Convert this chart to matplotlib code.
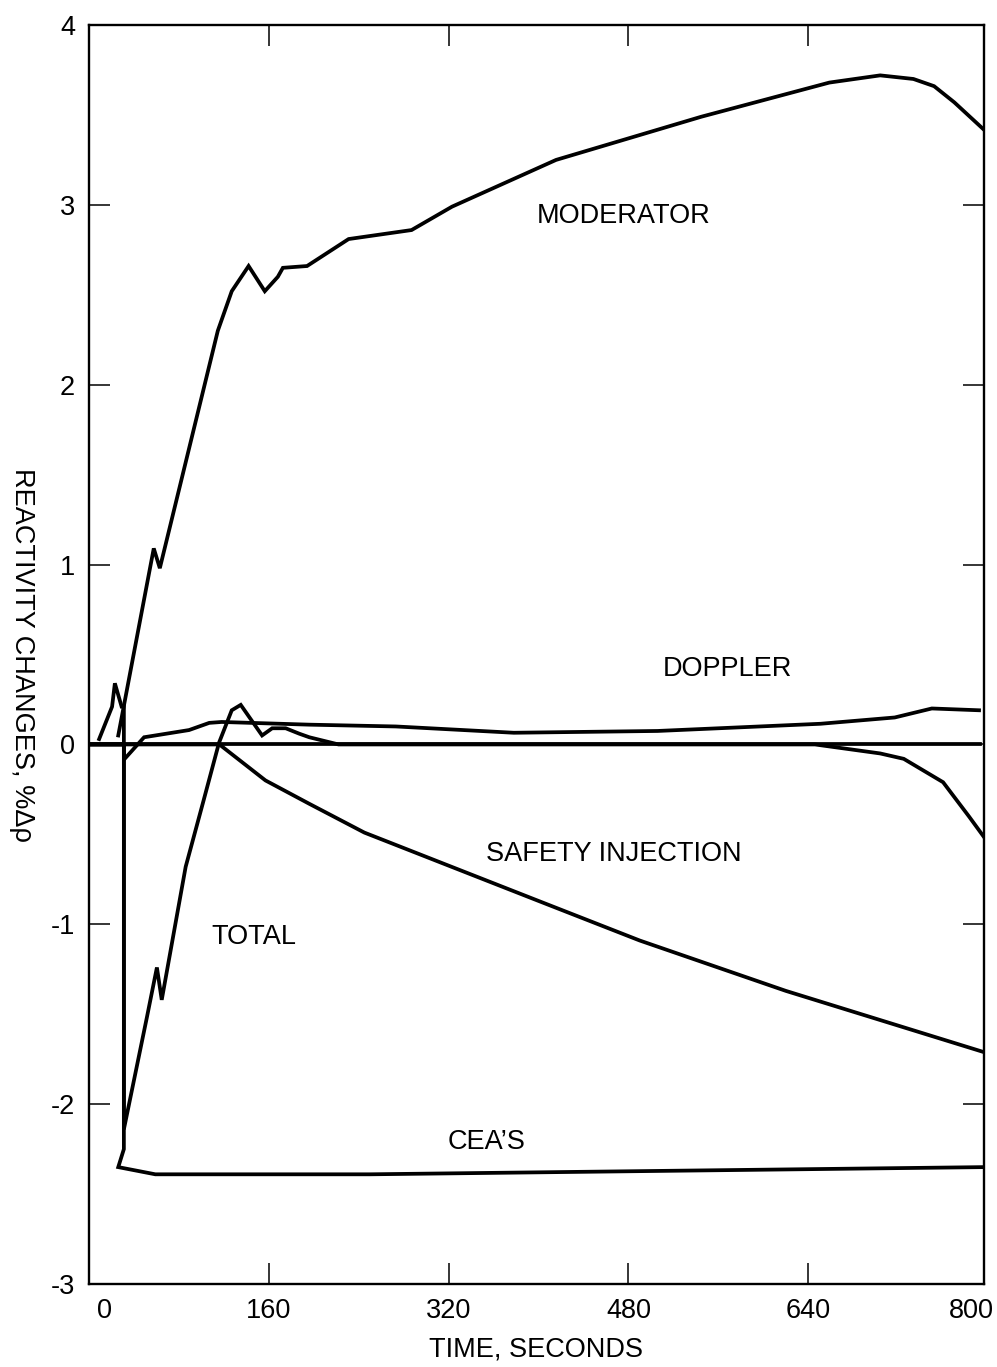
import matplotlib.pyplot as plt

plt.rcParams['font.family'] = ['Liberation Sans', 'DejaVu Sans']

# reactivity curves, time in seconds, reactivity in %dp
mod_t = [26, 57.6, 63, 114.6, 127, 142, 156.4, 168, 172.5, 194, 231, 287, 323,
         415.6, 544.8, 658.8, 704, 733.6, 752, 770, 796]
mod_v = [0.05, 1.09, 0.98, 2.30, 2.52, 2.66, 2.52, 2.60, 2.65, 2.66, 2.81, 2.86, 2.99,
         3.25, 3.49, 3.68, 3.72, 3.70, 3.66, 3.57, 3.42]

dop_t = [0, 31, 31, 49, 89, 107, 118, 196, 273, 378, 506, 651, 717, 750, 792]
dop_v = [0, 0, -0.085, 0.04, 0.08, 0.12, 0.125, 0.11, 0.10, 0.065, 0.075, 0.115, 0.15, 0.20, 0.19]

si_t = [0, 116, 157, 196, 245, 400, 490, 620, 796]
si_v = [0, 0, -0.20, -0.33, -0.49, -0.87, -1.09, -1.37, -1.71]

cea_t = [0, 31, 31, 26, 59, 250, 796]
cea_v = [0, 0, -2.25, -2.35, -2.39, -2.39, -2.35]

tot_t = [9, 20.5, 23, 29, 31, 31, 51.4, 60.4, 64.7, 86, 102, 115.7, 127, 135, 154, 163,
         175, 187, 196, 222, 646, 704, 725, 760, 783, 797]
tot_v = [0.03, 0.21, 0.34, 0.21, 0.21, -2.14, -1.52, -1.24, -1.42, -0.68, -0.31, 0.01,
         0.19, 0.22, 0.05, 0.09, 0.09, 0.06, 0.04, 0.0, 0.0, -0.05, -0.08, -0.21, -0.40, -0.52]

labels = {
    'MODERATOR': (476, 2.94),
    'DOPPLER': (568, 0.42),
    'SAFETY INJECTION': (467, -0.61),
    'TOTAL': (147, -1.07),
    'CEA\u2019S': (354, -2.21),
}

x_ticks = [160, 320, 480, 640]
y_ticks = [-3, -2, -1, 0, 1, 2, 3, 4]

fs = 19.5

fig = plt.figure(figsize=(9.97, 13.67), dpi=100)
ax = fig.add_axes([0.0893, 0.0607, 0.8972, 0.921])

lw = 2.7
ax.plot([0, 793], [0, 0], color='black', lw=lw)
for t, v in [(mod_t, mod_v), (dop_t, dop_v), (si_t, si_v), (cea_t, cea_v), (tot_t, tot_v)]:
    ax.plot(t, v, color='black', lw=lw, solid_joinstyle='miter')

for txt, (x, y) in labels.items():
    ax.text(x, y, txt, fontsize=fs, ha='center', va='center')

ax.set_xlim(0, 796)
ax.set_ylim(-3, 4)

ax.set_xticks(x_ticks)
ax.set_xticklabels([str(t) for t in x_ticks])
# end labels sit slightly inside the frame in the original
ax.set_xticks([14, 785], minor=True)
ax.set_xticklabels(['0', '800'], minor=True)
ax.set_yticks(y_ticks)
ax.set_yticklabels([str(v) for v in y_ticks])

ax.tick_params(which='major', direction='in', length=15, width=1.1,
               top=True, right=True, labelsize=fs)
ax.tick_params(axis='x', which='both', pad=10)
ax.tick_params(axis='x', which='minor', length=0, labelsize=fs)
ax.tick_params(axis='y', pad=10)
for s in ax.spines.values():
    s.set_linewidth(1.7)

ax.set_xlabel('TIME, SECONDS', fontsize=fs, labelpad=9)
ax.set_ylabel('REACTIVITY CHANGES, %\u0394\u03c1', fontsize=fs, rotation=-90,
              labelpad=30)

fig.savefig('out.png', dpi=100)
